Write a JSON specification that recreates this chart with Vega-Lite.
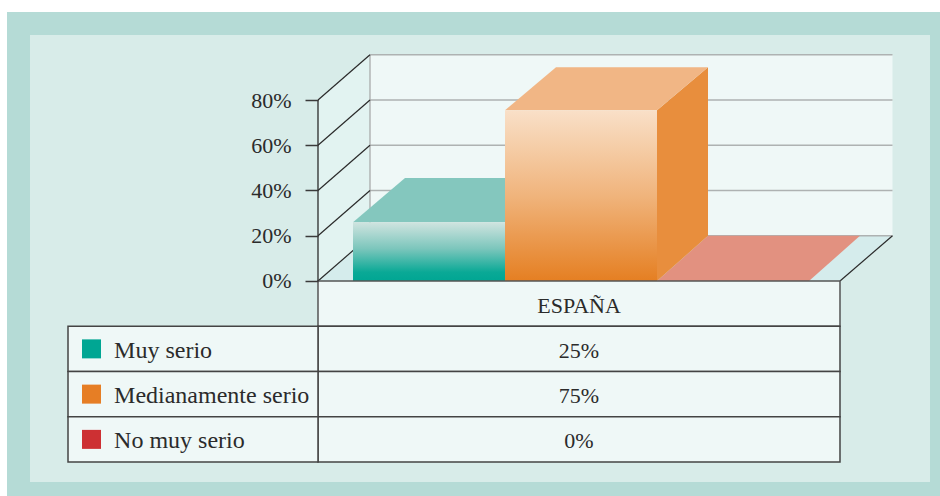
{
"$schema":"https://vega.github.io/schema/vega-lite/v6.json",
"width":940,"height":496,"padding":0,"autosize":"none","background":"#ffffff",
"config":{"view":{"stroke":null},"text":{"font":"Liberation Serif"}},
"datasets":{
"filas":[{"fila":"Muy serio","valor":"25%"},{"fila":"Medianamente serio","valor":"75%"},{"fila":"No muy serio","valor":"0%"}],
"encabezado":[{"fila":"ESPAÑA","valor":"ESPAÑA"}],
"barras":[{"serie":"Muy serio","desde":0,"hasta":1,"altura":26},{"serie":"Medianamente serio","desde":1,"hasta":2,"altura":75.5},{"serie":"No muy serio","desde":2,"hasta":3,"altura":0}],
"rejilla":[{"nivel":40},{"nivel":60},{"nivel":80},{"nivel":100},{"nivel":20}],
"diagonales":[
{"t":0,"x":-0.2303,"y":0},{"t":0,"x":0.1118,"y":20},
{"t":20,"x":-0.2303,"y":20},{"t":20,"x":0.1118,"y":40},
{"t":40,"x":-0.2303,"y":40},{"t":40,"x":0.1118,"y":60},
{"t":60,"x":-0.2303,"y":60},{"t":60,"x":0.1118,"y":80},
{"t":80,"x":-0.2303,"y":80},{"t":80,"x":0.1118,"y":100},
{"t":"r","x":3.2039,"y":0},{"t":"r","x":3.5493,"y":20}]
},
"resolve":{"scale":{"y":"independent"}},
"layer":[
{"layer":[
{"data":{"values":[{"p":"marco"}]},"mark":{"type":"rect","fill":"#b5dbd6"},
 "encoding":{"x":{"datum":-2.2763,"type":"quantitative","scale":{"domain":[-2.3224,3.8618],"nice":false,"zero":false},"axis":null},"x2":{"datum":3.8618},
 "y":{"datum":-95.03,"type":"quantitative","scale":{"domain":[-95.03,124.2],"nice":false,"zero":false},"axis":null},"y2":{"datum":118.9}}},
{"data":{"values":[{"p":"panel"}]},"mark":{"type":"rect","fill":"#d8ece9"},
 "encoding":{"x":{"datum":-2.125,"type":"quantitative","axis":null},"x2":{"datum":3.7961},"y":{"datum":-88.84,"type":"quantitative","axis":null},"y2":{"datum":108.73}}},
{"data":{"values":[{"p":"pared"}]},"mark":{"type":"rect","fill":"#eff8f7"},
 "encoding":{"x":{"datum":0.1118,"type":"quantitative","axis":null},"x2":{"datum":3.5493},"y":{"datum":20,"type":"quantitative","axis":null},"y2":{"datum":100}}},
{"data":{"values":[{"x":-0.2303,"y":0,"y2":80},{"x":0.1118,"y":20,"y2":100}]},"mark":{"type":"area","orient":"vertical","fill":"#e2f3f1"},
 "encoding":{"x":{"field":"x","type":"quantitative","axis":null},"y":{"field":"y","type":"quantitative","axis":null},"y2":{"field":"y2"}}},
{"data":{"values":[{"y":0,"x":-0.2303,"x2":3.2039},{"y":20,"x":0.1118,"x2":3.5493}]},"mark":{"type":"area","orient":"horizontal","fill":"#d5ecec"},
 "encoding":{"y":{"field":"y","type":"quantitative","axis":null},"x":{"field":"x","type":"quantitative","axis":null},"x2":{"field":"x2"}}},
{"data":{"name":"rejilla"},"mark":{"type":"rule","color":"#aeb2b2","strokeWidth":1.5},
 "encoding":{"y":{"field":"nivel","type":"quantitative","axis":null},"x":{"datum":0.1118,"type":"quantitative","axis":null},"x2":{"datum":3.5493}}},
{"data":{"values":[{"p":"arista"}]},"mark":{"type":"rule","color":"#a3a5a5","strokeWidth":1.2},
 "encoding":{"x":{"datum":0.1118,"type":"quantitative","axis":null},"y":{"datum":20,"type":"quantitative","axis":null},"y2":{"datum":100}}},
{"data":{"values":[{"y":0,"x":2,"x2":3},{"y":20,"x":2.3355,"x2":3.3355}]},"mark":{"type":"area","orient":"horizontal","fill":"#e29180"},
 "encoding":{"y":{"field":"y","type":"quantitative","axis":null},"x":{"field":"x","type":"quantitative","axis":null},"x2":{"field":"x2"}}},
{"data":{"name":"diagonales"},"mark":{"type":"line","color":"#2b2b2b","strokeWidth":1.2},
 "encoding":{"x":{"field":"x","type":"quantitative","axis":null},"y":{"field":"y","type":"quantitative","axis":null},"detail":{"field":"t"}}},
{"data":{"values":[{"y":26,"x":0,"x2":1},{"y":45.5,"x":0.342,"x2":1.342}]},"mark":{"type":"area","orient":"horizontal","fill":"#84c7be"},
 "encoding":{"y":{"field":"y","type":"quantitative","axis":null},"x":{"field":"x","type":"quantitative","axis":null},"x2":{"field":"x2"}}},
{"data":{"name":"barras"},"transform":[{"filter":"datum.serie==='Muy serio'"}],
 "mark":{"type":"rect","fill":{"gradient":"linear","x1":0,"y1":0,"x2":0,"y2":1,"stops":[{"offset":0,"color":"#d0e4e0"},{"offset":0.45,"color":"#7cc6bc"},{"offset":0.85,"color":"#0aa996"},{"offset":1,"color":"#00a693"}]}},
 "encoding":{"x":{"field":"desde","type":"quantitative","axis":null},"x2":{"field":"hasta"},"y":{"field":"altura","type":"quantitative","axis":null},"y2":{"datum":0}}},
{"data":{"values":[{"x":2,"y":0,"y2":75.5},{"x":2.3355,"y":20,"y2":94.5}]},"mark":{"type":"area","orient":"vertical","fill":"#e88e3d"},
 "encoding":{"x":{"field":"x","type":"quantitative","axis":null},"y":{"field":"y","type":"quantitative","axis":null},"y2":{"field":"y2"}}},
{"data":{"values":[{"y":75.5,"x":1,"x2":2},{"y":94.5,"x":1.3355,"x2":2.3355}]},"mark":{"type":"area","orient":"horizontal","fill":"#f1b685"},
 "encoding":{"y":{"field":"y","type":"quantitative","axis":null},"x":{"field":"x","type":"quantitative","axis":null},"x2":{"field":"x2"}}},
{"data":{"name":"barras"},"transform":[{"filter":"datum.serie==='Medianamente serio'"}],
 "mark":{"type":"rect","fill":{"gradient":"linear","x1":0,"y1":0,"x2":0,"y2":1,"stops":[{"offset":0,"color":"#f9e0c8"},{"offset":0.5,"color":"#f0b47c"},{"offset":1,"color":"#e57f22"}]}},
 "encoding":{"x":{"field":"desde","type":"quantitative","axis":null},"x2":{"field":"hasta"},"y":{"field":"altura","type":"quantitative","axis":null},"y2":{"datum":0}}}
]},
{"layer":[
{"data":{"name":"encabezado"},"mark":{"type":"rect","fill":"#eff8f7","stroke":"#555555","strokeWidth":1.5},
 "encoding":{"y":{"field":"fila","type":"nominal","axis":null,"scale":{"domain":["ESPAÑA","Muy serio","Medianamente serio","No muy serio"],"range":[281,462],"paddingInner":0,"paddingOuter":0}},"x":{"datum":-0.2303,"type":"quantitative","axis":null},"x2":{"datum":3.2039}}},
{"data":{"name":"filas"},"mark":{"type":"rect","fill":"#eff8f7","stroke":"#444444","strokeWidth":1.5},
 "encoding":{"y":{"field":"fila","type":"nominal","axis":null},"x":{"datum":-0.2303,"type":"quantitative","axis":null},"x2":{"datum":3.2039}}},
{"data":{"name":"filas"},"mark":{"type":"rect","fill":"#eff8f7","stroke":"#444444","strokeWidth":1.5},
 "encoding":{"y":{"field":"fila","type":"nominal","axis":null},"x":{"datum":-1.875,"type":"quantitative","axis":null},"x2":{"datum":-0.2303}}},
{"data":{"name":"filas"},"mark":{"type":"square","size":361,"opacity":1,"filled":true},
 "encoding":{"y":{"field":"fila","type":"nominal","axis":null},"x":{"datum":-1.7204,"type":"quantitative","axis":null},
 "color":{"field":"fila","type":"nominal","legend":null,"scale":{"domain":["Muy serio","Medianamente serio","No muy serio"],"range":["#00a693","#e67e25","#cd3033"]}}}},
{"data":{"name":"filas"},"mark":{"type":"text","align":"left","baseline":"middle","dy":2,"font":"Liberation Serif","fontSize":24,"color":"#2b2b2b"},
 "encoding":{"y":{"field":"fila","type":"nominal","axis":null},"x":{"datum":-1.572,"type":"quantitative","axis":null},"text":{"field":"fila"}}},
{"data":{"name":"filas"},"mark":{"type":"text","align":"center","baseline":"middle","dy":2,"font":"Liberation Serif","fontSize":22,"color":"#2b2b2b"},
 "encoding":{"y":{"field":"fila","type":"nominal","axis":null},"x":{"datum":1.487,"type":"quantitative","axis":null},"text":{"field":"valor"}}},
{"data":{"name":"encabezado"},"mark":{"type":"text","align":"center","baseline":"middle","dy":2,"font":"Liberation Serif","fontSize":22,"color":"#2b2b2b"},
 "encoding":{"y":{"field":"fila","type":"nominal","axis":null},"x":{"datum":1.487,"type":"quantitative","axis":null},"text":{"field":"valor"}}}
]},
{"data":{"values":[{"p":"eje"}]},"mark":{"type":"rule","color":"#2b2b2b","strokeWidth":1.3},
 "encoding":{"x":{"datum":-0.2303,"type":"quantitative","axis":null},
 "y":{"datum":0,"type":"quantitative","scale":{"domain":[-95.03,124.2],"nice":false,"zero":false},"axis":{"orient":"left","offset":-318,"values":[0,20,40,60,80],"labelExpr":"datum.value+'%'","domain":false,"grid":false,"title":null,"tickSize":13,"tickWidth":1.5,"tickColor":"#3a3a3a","labelPadding":14,"labelFont":"Liberation Serif","labelFontSize":22,"labelColor":"#2b2b2b","zindex":1}},"y2":{"datum":80}}}
]
}
